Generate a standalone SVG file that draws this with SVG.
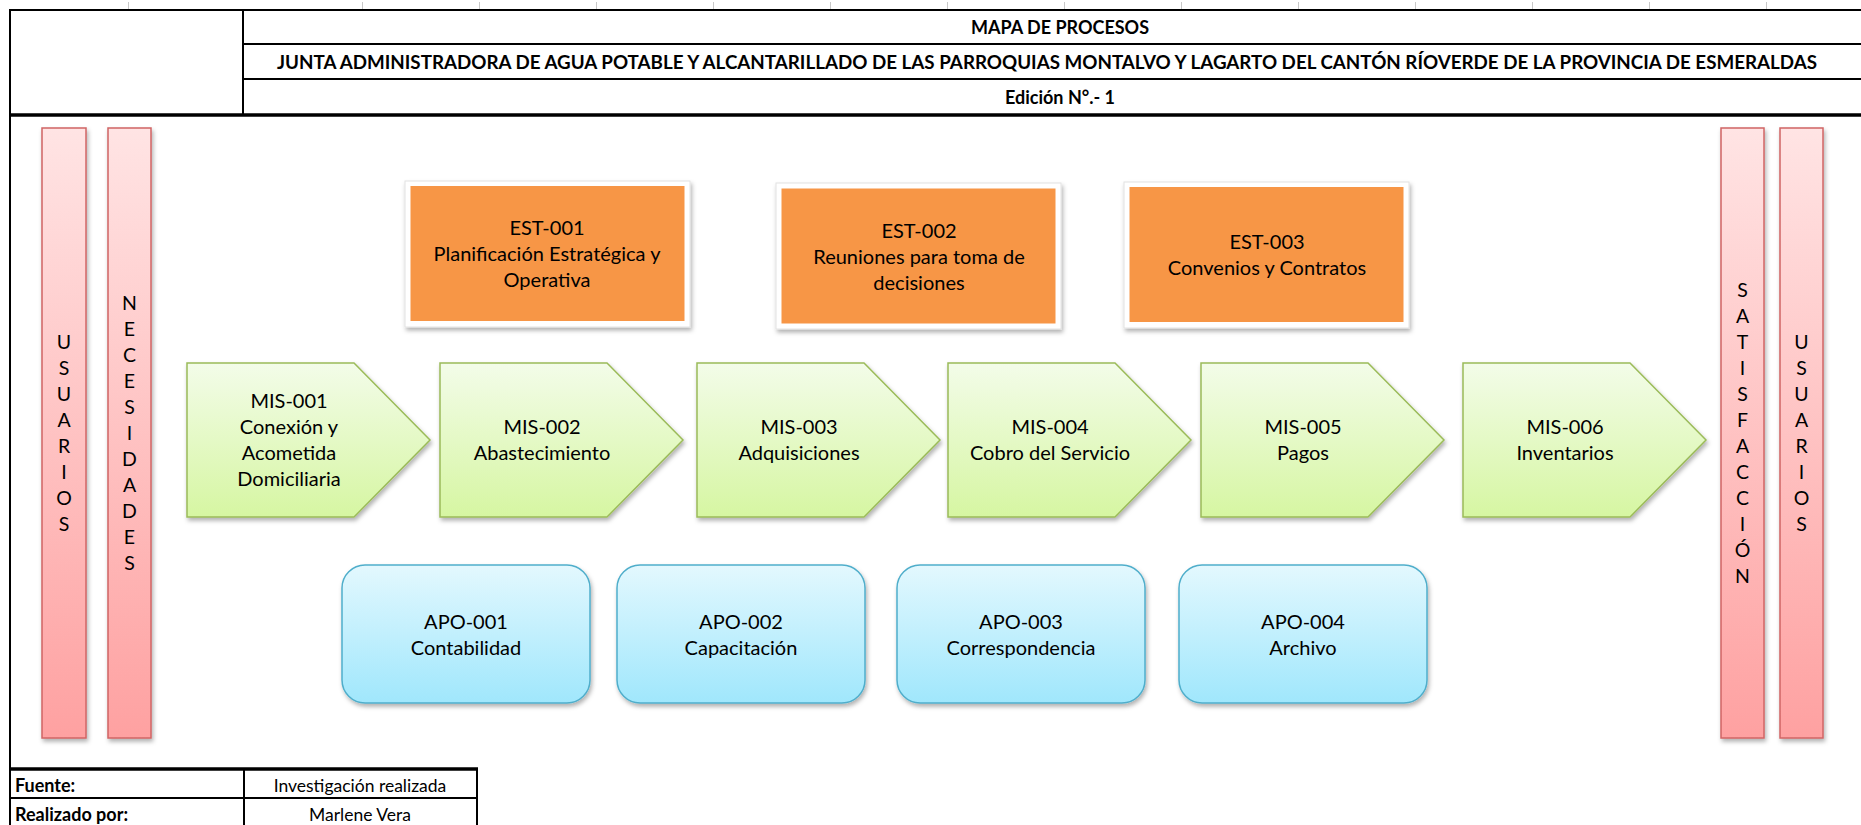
<svg xmlns="http://www.w3.org/2000/svg" width="1861" height="825" viewBox="0 0 1861 825">
  <defs>
    <linearGradient id="gPink" x1="0" y1="0" x2="0" y2="1">
      <stop offset="0" stop-color="#FFE4E4"/>
      <stop offset="1" stop-color="#FEA1A1"/>
    </linearGradient>
    <linearGradient id="gGreen" x1="0" y1="0" x2="0" y2="1">
      <stop offset="0" stop-color="#F3FCE9"/>
      <stop offset="1" stop-color="#D6F6A2"/>
    </linearGradient>
    <linearGradient id="gBlue" x1="0" y1="0" x2="0" y2="1">
      <stop offset="0" stop-color="#E3F8FE"/>
      <stop offset="1" stop-color="#A0E7FC"/>
    </linearGradient>
    <filter id="shadow" x="-10%" y="-10%" width="125%" height="125%">
      <feDropShadow dx="1.5" dy="3" stdDeviation="2" flood-color="#000" flood-opacity="0.3"/>
    </filter>
    <style>
      text { font-family: Lato, "Liberation Sans", sans-serif; fill: #000; }
      .hdr { font-weight: bold; font-size: 18px; }
      .lbl { font-size: 20px; text-anchor: middle; }
      .bar-txt { font-size: 19.5px; text-anchor: middle; }
      .tbl { font-size: 17.5px; }
      .tbl-b { font-size: 18px; font-weight: bold; }
      .rule { stroke: #000; stroke-width: 2; fill: none; }
      .rule-thick { stroke: #000; stroke-width: 3.5; fill: none; }
      .tick { stroke: #C8C8C8; stroke-width: 1; }
      .bar { fill: url(#gPink); stroke: #D06464; stroke-width: 1.5; filter: url(#shadow); }
      .mis { fill: url(#gGreen); stroke: #9BBB59; stroke-width: 1.5; filter: url(#shadow); }
      .est-frame { fill: #FFFFFF; stroke: #E2E2E2; stroke-width: 1; filter: url(#shadow); }
      .est { fill: #F79646; }
      .apo { fill: url(#gBlue); stroke: #4FAECB; stroke-width: 1.5; filter: url(#shadow); }
    </style>
  </defs>

  <rect x="0" y="0" width="1861" height="825" fill="#FFFFFF"/>

  <!-- sheet column ticks above the frame -->
  <g id="column-ticks">
    <line class="tick" x1="128.5" y1="2" x2="128.5" y2="9"/>
    <line class="tick" x1="362.5" y1="2" x2="362.5" y2="9"/>
    <line class="tick" x1="479.5" y1="2" x2="479.5" y2="9"/>
    <line class="tick" x1="596.5" y1="2" x2="596.5" y2="9"/>
    <line class="tick" x1="713.5" y1="2" x2="713.5" y2="9"/>
    <line class="tick" x1="830.5" y1="2" x2="830.5" y2="9"/>
    <line class="tick" x1="947.5" y1="2" x2="947.5" y2="9"/>
    <line class="tick" x1="1064.5" y1="2" x2="1064.5" y2="9"/>
    <line class="tick" x1="1181.5" y1="2" x2="1181.5" y2="9"/>
    <line class="tick" x1="1298.5" y1="2" x2="1298.5" y2="9"/>
    <line class="tick" x1="1415.5" y1="2" x2="1415.5" y2="9"/>
    <line class="tick" x1="1532.5" y1="2" x2="1532.5" y2="9"/>
    <line class="tick" x1="1649.5" y1="2" x2="1649.5" y2="9"/>
    <line class="tick" x1="1766.5" y1="2" x2="1766.5" y2="9"/>
  </g>

  <!-- header block -->
  <g id="header">
    <line class="rule" x1="9" y1="10" x2="1861" y2="10"/>
    <line class="rule" x1="243" y1="44" x2="1861" y2="44"/>
    <line class="rule" x1="243" y1="79" x2="1861" y2="79"/>
    <line class="rule-thick" x1="9" y1="115" x2="1861" y2="115"/>
    <line class="rule" x1="10" y1="9" x2="10" y2="825"/>
    <line class="rule" x1="243" y1="10" x2="243" y2="115"/>
    <text class="hdr" x="1060" y="34" text-anchor="middle">MAPA DE PROCESOS</text>
    <text class="hdr" x="277" y="68.5" textLength="1540" lengthAdjust="spacingAndGlyphs">JUNTA ADMINISTRADORA DE AGUA POTABLE Y ALCANTARILLADO DE LAS PARROQUIAS MONTALVO Y LAGARTO DEL CANTÓN RÍOVERDE DE LA PROVINCIA DE ESMERALDAS</text>
    <text class="hdr" x="1060" y="104" text-anchor="middle">Edición N°.- 1</text>
  </g>

  <!-- vertical side bars -->
  <g id="bar-usuarios-in">
    <rect class="bar" x="42" y="128" width="44" height="610"/>
    <text class="bar-txt" x="64"><tspan x="64" y="349">U</tspan><tspan x="64" y="375">S</tspan><tspan x="64" y="401">U</tspan><tspan x="64" y="427">A</tspan><tspan x="64" y="453">R</tspan><tspan x="64" y="479">I</tspan><tspan x="64" y="505">O</tspan><tspan x="64" y="531">S</tspan></text>
  </g>
  <g id="bar-necesidades">
    <rect class="bar" x="108" y="128" width="43" height="610"/>
    <text class="bar-txt" x="129.5"><tspan x="129.5" y="310">N</tspan><tspan x="129.5" y="336">E</tspan><tspan x="129.5" y="362">C</tspan><tspan x="129.5" y="388">E</tspan><tspan x="129.5" y="414">S</tspan><tspan x="129.5" y="440">I</tspan><tspan x="129.5" y="466">D</tspan><tspan x="129.5" y="492">A</tspan><tspan x="129.5" y="518">D</tspan><tspan x="129.5" y="544">E</tspan><tspan x="129.5" y="570">S</tspan></text>
  </g>
  <g id="bar-satisfaccion">
    <rect class="bar" x="1721" y="128" width="43" height="610"/>
    <text class="bar-txt" x="1742.5"><tspan x="1742.5" y="297">S</tspan><tspan x="1742.5" y="323">A</tspan><tspan x="1742.5" y="349">T</tspan><tspan x="1742.5" y="375">I</tspan><tspan x="1742.5" y="401">S</tspan><tspan x="1742.5" y="427">F</tspan><tspan x="1742.5" y="453">A</tspan><tspan x="1742.5" y="479">C</tspan><tspan x="1742.5" y="505">C</tspan><tspan x="1742.5" y="531">I</tspan><tspan x="1742.5" y="557">Ó</tspan><tspan x="1742.5" y="583">N</tspan></text>
  </g>
  <g id="bar-usuarios-out">
    <rect class="bar" x="1780" y="128" width="43" height="610"/>
    <text class="bar-txt" x="1801.5"><tspan x="1801.5" y="349">U</tspan><tspan x="1801.5" y="375">S</tspan><tspan x="1801.5" y="401">U</tspan><tspan x="1801.5" y="427">A</tspan><tspan x="1801.5" y="453">R</tspan><tspan x="1801.5" y="479">I</tspan><tspan x="1801.5" y="505">O</tspan><tspan x="1801.5" y="531">S</tspan></text>
  </g>

  <!-- strategic processes -->
  <g id="est-001">
    <rect class="est-frame" x="405" y="181" width="285" height="146"/>
    <rect class="est" x="410.5" y="186" width="274" height="135"/>
    <text class="lbl" x="547"><tspan x="547" y="235">EST-001</tspan><tspan x="547" y="261">Planificación Estratégica y</tspan><tspan x="547" y="287">Operativa</tspan></text>
  </g>
  <g id="est-002">
    <rect class="est-frame" x="776" y="183" width="285" height="146"/>
    <rect class="est" x="781.5" y="188.5" width="274" height="135"/>
    <text class="lbl" x="919"><tspan x="919" y="238">EST-002</tspan><tspan x="919" y="264">Reuniones para toma de</tspan><tspan x="919" y="290">decisiones</tspan></text>
  </g>
  <g id="est-003">
    <rect class="est-frame" x="1124" y="182" width="285" height="146"/>
    <rect class="est" x="1129.5" y="187" width="274" height="135"/>
    <text class="lbl" x="1267"><tspan x="1267" y="249">EST-003</tspan><tspan x="1267" y="275">Convenios y Contratos</tspan></text>
  </g>

  <!-- mission processes (chevron pentagons) -->
  <g id="mis-001">
    <path class="mis" d="M187,363 H354 L430,440 L354,517 H187 Z"/>
    <text class="lbl" x="289"><tspan x="289" y="408">MIS-001</tspan><tspan x="289" y="434">Conexión y</tspan><tspan x="289" y="460">Acometida</tspan><tspan x="289" y="486">Domiciliaria</tspan></text>
  </g>
  <g id="mis-002">
    <path class="mis" d="M440,363 H607 L683,440 L607,517 H440 Z"/>
    <text class="lbl" x="542"><tspan x="542" y="434">MIS-002</tspan><tspan x="542" y="460">Abastecimiento</tspan></text>
  </g>
  <g id="mis-003">
    <path class="mis" d="M697,363 H864 L940,440 L864,517 H697 Z"/>
    <text class="lbl" x="799"><tspan x="799" y="434">MIS-003</tspan><tspan x="799" y="460">Adquisiciones</tspan></text>
  </g>
  <g id="mis-004">
    <path class="mis" d="M948,363 H1115 L1191,440 L1115,517 H948 Z"/>
    <text class="lbl" x="1050"><tspan x="1050" y="434">MIS-004</tspan><tspan x="1050" y="460">Cobro del Servicio</tspan></text>
  </g>
  <g id="mis-005">
    <path class="mis" d="M1201,363 H1368 L1444,440 L1368,517 H1201 Z"/>
    <text class="lbl" x="1303"><tspan x="1303" y="434">MIS-005</tspan><tspan x="1303" y="460">Pagos</tspan></text>
  </g>
  <g id="mis-006">
    <path class="mis" d="M1463,363 H1630 L1706,440 L1630,517 H1463 Z"/>
    <text class="lbl" x="1565"><tspan x="1565" y="434">MIS-006</tspan><tspan x="1565" y="460">Inventarios</tspan></text>
  </g>

  <!-- support processes -->
  <g id="apo-001">
    <rect class="apo" x="342" y="565" width="248" height="138" rx="23"/>
    <text class="lbl" x="466"><tspan x="466" y="629">APO-001</tspan><tspan x="466" y="655">Contabilidad</tspan></text>
  </g>
  <g id="apo-002">
    <rect class="apo" x="617" y="565" width="248" height="138" rx="23"/>
    <text class="lbl" x="741"><tspan x="741" y="629">APO-002</tspan><tspan x="741" y="655">Capacitación</tspan></text>
  </g>
  <g id="apo-003">
    <rect class="apo" x="897" y="565" width="248" height="138" rx="23"/>
    <text class="lbl" x="1021"><tspan x="1021" y="629">APO-003</tspan><tspan x="1021" y="655">Correspondencia</tspan></text>
  </g>
  <g id="apo-004">
    <rect class="apo" x="1179" y="565" width="248" height="138" rx="23"/>
    <text class="lbl" x="1303"><tspan x="1303" y="629">APO-004</tspan><tspan x="1303" y="655">Archivo</tspan></text>
  </g>

  <!-- connectors: none drawn, the flow is implied by the chevrons -->
  <g id="connectors"/>

  <!-- source / author table -->
  <g id="footer-table">
    <line class="rule-thick" x1="9" y1="769" x2="478" y2="769"/>
    <line class="rule" x1="9" y1="798" x2="478" y2="798"/>
    <line class="rule" x1="244" y1="769" x2="244" y2="825"/>
    <line class="rule" x1="477" y1="769" x2="477" y2="825"/>
    <text class="tbl-b" x="15" y="792">Fuente:</text>
    <text class="tbl-b" x="15" y="821">Realizado por:</text>
    <text class="tbl" x="360" y="792" text-anchor="middle">Investigación realizada</text>
    <text class="tbl" x="360" y="821" text-anchor="middle">Marlene Vera</text>
  </g>
</svg>
